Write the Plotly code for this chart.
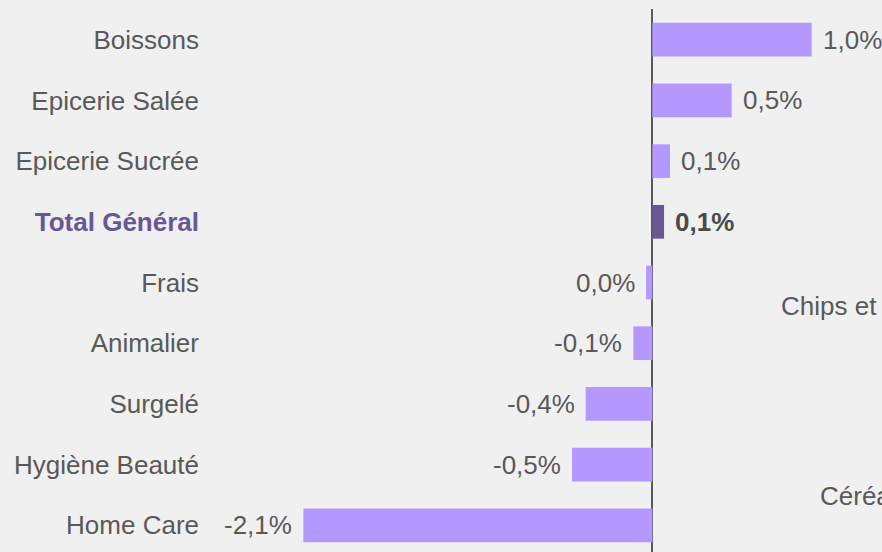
import plotly.graph_objects as go

categories = ["Boissons", "Epicerie Salée", "Epicerie Sucrée", "Total Général", "Frais",
              "Animalier", "Surgelé", "Hygiène Beauté", "Home Care"]
values = [0.966, 0.481, 0.107, 0.071, -0.038, -0.115, -0.404, -0.487, -2.115]
highlight = "Total Général"

LIGHT = "#B399FF"
DARK = "#675797"
GREY = "#595959"
FONT = "Liberation Sans, Arial, sans-serif"
FS = 26


def fmt(v):
    r = round(v, 1)
    if r == 0:
        r = 0.0
    return f"{r:.1f}".replace(".", ",") + "%"


colors = [DARK if c == highlight else LIGHT for c in categories]
ticktext = [f"<b><span style='color:{DARK}'>{c}</span></b>" if c == highlight else c
            for c in categories]

fig = go.Figure(go.Bar(
    y=categories, x=values, orientation="h",
    marker=dict(color=colors, line=dict(width=0)),
    hoverinfo="skip",
))

annotations = []
for c, v in zip(categories, values):
    txt = fmt(v)
    if c == highlight:
        txt = f"<b>{txt}</b>"
    annotations.append(dict(
        x=v, y=c, xref="x", yref="y", text=txt, showarrow=False,
        xanchor="left" if v >= 0 else "right", xshift=9 if v >= 0 else -9,
        yanchor="middle", font=dict(family=FONT, size=FS, color=GREY if c != highlight else "#4a4a4a"),
    ))

# text of the neighbouring panel, cut by the frame in the reference
annotations.append(dict(x=0.768, y=4.387, xref="x", yref="y", text="Chips et",
                        showarrow=False, xanchor="left", yanchor="middle",
                        font=dict(family=FONT, size=FS, color=GREY)))
annotations.append(dict(x=1.002, y=7.51, xref="x", yref="y", text="Céréa",
                        showarrow=False, xanchor="left", yanchor="middle",
                        font=dict(family=FONT, size=FS, color=GREY)))

fig.update_layout(
    width=882, height=552,
    margin=dict(l=210, r=0, t=9, b=0),
    paper_bgcolor="#F0F0F0", plot_bgcolor="#F0F0F0",
    bargap=0.445,
    showlegend=False,
    font=dict(family=FONT, size=FS, color=GREY),
    annotations=annotations,
    xaxis=dict(range=[-2.681, 1.392], showgrid=False, showticklabels=False, ticks="",
               zeroline=True, zerolinecolor="#5a5a5a", zerolinewidth=1.5, fixedrange=True),
    yaxis=dict(type="category", categoryorder="array", categoryarray=categories,
               range=[8.44, -0.506], showgrid=False, ticks="", tickmode="array",
               tickvals=categories, ticktext=ticktext, ticklabelstandoff=10,
               tickfont=dict(family=FONT, size=FS, color=GREY), fixedrange=True),
)

fig.write_html("out.html", config={"displayModeBar": False},
               post_script="document.body.style.margin='0';document.body.style.background='#F0F0F0';")
